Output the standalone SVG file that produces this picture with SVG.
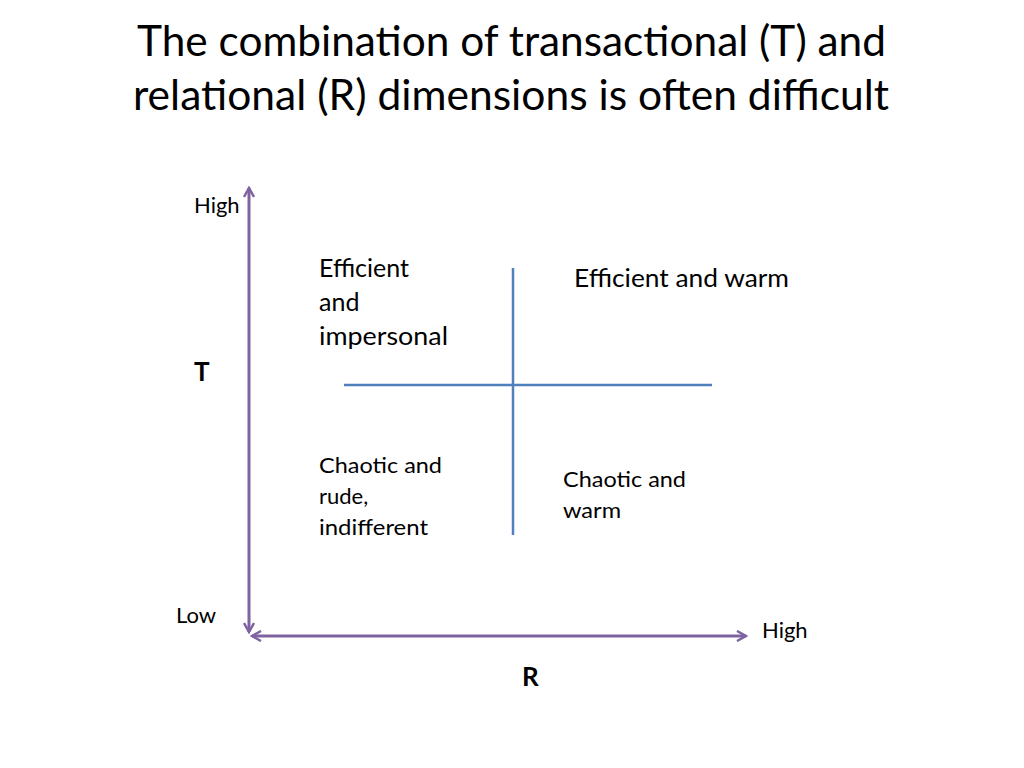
<svg xmlns="http://www.w3.org/2000/svg" width="1024" height="768" viewBox="0 0 1024 768">
<style>
text{font-family:Lato,"Open Sans","Liberation Sans",sans-serif;fill:#000}
.title{font-size:43px}
.lbl{font-size:22px}
.q{font-size:25px}
.ax{font-size:26px;font-weight:bold}
.axis{stroke:#7F63A1;stroke-width:3;fill:none}
.cross{stroke:#4F81BD;stroke-width:2.5;fill:none}
</style>
<defs>
<marker id="arr" viewBox="0 0 12 12" refX="10" refY="6" markerWidth="12" markerHeight="12" markerUnits="userSpaceOnUse" orient="auto-start-reverse">
<path d="M1,1 L10,6 L1,11" fill="none" stroke="#7F63A1" stroke-width="2.5"/>
</marker>
</defs>
<rect width="1024" height="768" fill="#fff"/>
<g id="title">
<text class="title" x="137" y="56" textLength="749" lengthAdjust="spacingAndGlyphs">The combination of transactional (T) and</text>
<text class="title" x="133" y="110" textLength="756" lengthAdjust="spacingAndGlyphs">relational (R) dimensions is often difficult</text>
</g>
<g id="connectors">
<line class="axis" x1="249" y1="632" x2="249" y2="188" marker-end="url(#arr)" marker-start="url(#arr)"/>
<line class="axis" x1="252" y1="636" x2="746" y2="636" marker-end="url(#arr)" marker-start="url(#arr)"/>
<line class="cross" x1="513" y1="268" x2="513" y2="535"/>
<line class="cross" x1="344" y1="385" x2="712" y2="385"/>
</g>
<g id="axis-labels">
<text class="lbl" x="194" y="213">High</text>
<text class="ax" x="194" y="381">T</text>
<text class="lbl" x="176" y="623">Low</text>
<text class="lbl" x="762" y="638">High</text>
<text class="ax" x="522" y="686">R</text>
</g>
<g id="q-top-left">
<text class="q" x="319" y="277">Efficient</text>
<text class="q" x="319" y="311">and</text>
<text class="q" x="319" y="345" textLength="129" lengthAdjust="spacingAndGlyphs">impersonal</text>
</g>
<g id="q-top-right">
<text class="q" x="574" y="287" textLength="215" lengthAdjust="spacingAndGlyphs">Efficient and warm</text>
</g>
<g id="q-bottom-left">
<text class="lbl" x="319" y="473" textLength="123" lengthAdjust="spacingAndGlyphs">Chaotic and</text>
<text class="lbl" x="319" y="504">rude,</text>
<text class="lbl" x="319" y="535" textLength="109" lengthAdjust="spacingAndGlyphs">indifferent</text>
</g>
<g id="q-bottom-right">
<text class="lbl" x="563" y="487" textLength="123" lengthAdjust="spacingAndGlyphs">Chaotic and</text>
<text class="lbl" x="563" y="518" textLength="58" lengthAdjust="spacingAndGlyphs">warm</text>
</g>
</svg>
